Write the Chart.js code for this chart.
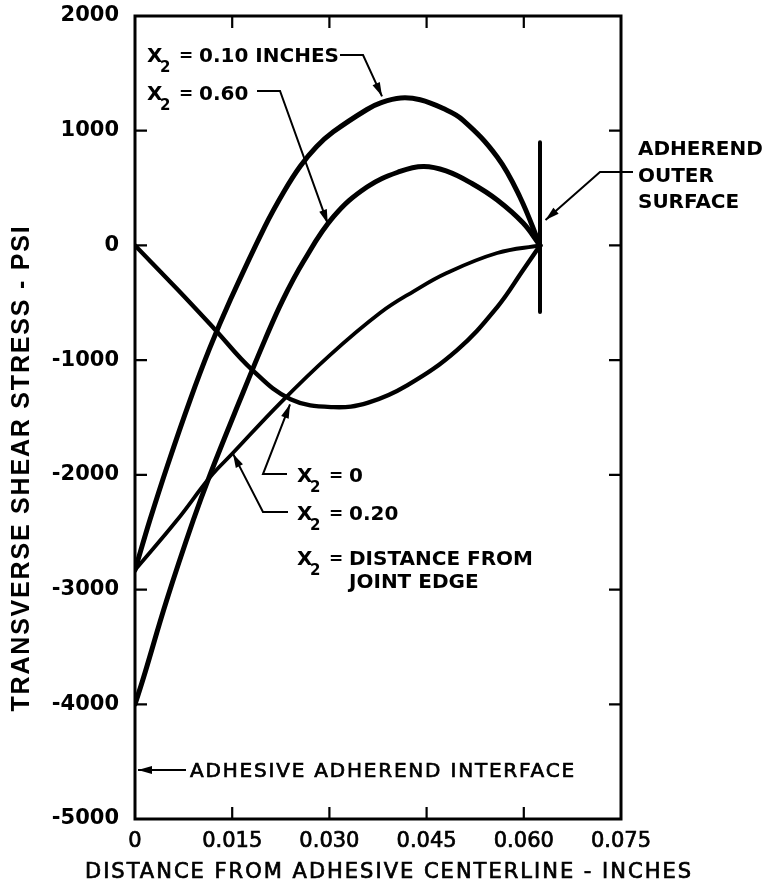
<!DOCTYPE html>
<html>
<head>
<meta charset="utf-8">
<script src="https://cdn.jsdelivr.net/npm/chart.js@4.4.1/dist/chart.umd.min.js"></script>
<style>
html,body{margin:0;padding:0;background:#fff;}
#wrap{width:768px;height:891px;position:relative;}
</style>
</head>
<body>
<div id="wrap"><canvas id="c" width="768" height="891"></canvas></div>
<script>
// Transverse shear stress across the bond thickness, for several stations X2 from the joint edge
const xTicks = [0, 0.015, 0.030, 0.045, 0.060, 0.075];
const yTicks = [-5000, -4000, -3000, -2000, -1000, 0, 1000, 2000];

// X2 = 0.10 inches
const x010 = [0, 0.0023, 0.0050, 0.0085, 0.0115, 0.0147, 0.0200, 0.0230, 0.0255, 0.0280, 0.0306, 0.0358, 0.0380, 0.0410, 0.0440, 0.0475, 0.0506, 0.0559, 0.0594, 0.0625];
const y010 = [-2830, -2394, -1920, -1348, -900, -476, 160, 470, 690, 860, 990, 1185, 1245, 1285, 1270, 1195, 1093, 771, 422, 0];

// X2 = 0.60
const x060 = [0, 0.0012, 0.0049, 0.0090, 0.0116, 0.0162, 0.0200, 0.0228, 0.0260, 0.0306, 0.0358, 0.0409, 0.0445, 0.0480, 0.0520, 0.0559, 0.0599, 0.0625];
const y060 = [-4000, -3789, -3091, -2394, -1995, -1348, -830, -476, -140, 248, 509, 645, 688, 650, 540, 396, 195, 0];

// X2 = 0.20
const x020 = [0, 0.0065, 0.0116, 0.0151, 0.0224, 0.0300, 0.0378, 0.0430, 0.0481, 0.0559, 0.0625];
const y020 = [-2830, -2394, -2019, -1810, -1374, -960, -589, -400, -240, -66, 0];

// X2 = 0 (joint edge)
const x000 = [0, 0.0065, 0.0123, 0.0180, 0.0240, 0.0306, 0.0360, 0.0420, 0.0497, 0.0559, 0.0599, 0.0625];
const y000 = [0, -380, -730, -1080, -1340, -1410, -1370, -1220, -912, -537, -214, 0];

// adherend outer surface marker
const surfX = [0.0625, 0.0625];
const surfY = [900, -580];

const pts = (xs, ys) => xs.map((x, i) => ({x: x, y: ys[i]}));

const INK = '#000';
const FONT = "'DejaVu Sans'";

function curve(xs, ys, w) {
  return {
    data: pts(xs, ys), showLine: true, borderColor: INK, borderWidth: w,
    pointRadius: 0, fill: false, tension: 0.4,
    borderCapStyle: 'round', borderJoinStyle: 'round'
  };
}

// annotation layout, in data units
const notes = {
  l010: {x: 0.00185, y: 1599, text: '0.10 INCHES',
         lead: [[0.03164, 1660], [0.03519, 1660], [0.03812, 1300]]},
  l060: {x: 0.00185, y: 1268, text: '0.60',
         lead: [[0.01883, 1346], [0.02238, 1346], [0.02975, 190]]},
  l000: {x: 0.0250, y: -2063, text: '0',
         lead: [[0.02346, -1993], [0.01975, -1993], [0.02392, -1385]]},
  l020: {x: 0.0250, y: -2394, text: '0.20',
         lead: [[0.02361, -2324], [0.01975, -2324], [0.01512, -1815]]},
  ldef: {x: 0.0250, y: -2786, text: 'DISTANCE FROM', text2: 'JOINT EDGE', y2: -2987},
  surf: {x: 0.07762, lines: ['ADHEREND', 'OUTER', 'SURFACE'], ys: [788, 553, 326],
         lead: [[0.07685, 640], [0.07176, 640], [0.06335, 222]]},
  iface: {x: 0.00849, y: -4634, text: 'ADHESIVE ADHEREND INTERFACE',
          lead: [[0.00787, -4573], [0.00046, -4573]]}
};

function arrowPath(ctx, P) {
  ctx.beginPath();
  ctx.moveTo(P[0][0], P[0][1]);
  for (let i = 1; i < P.length; i++) ctx.lineTo(P[i][0], P[i][1]);
  ctx.stroke();
  const a = P[P.length - 2], b = P[P.length - 1];
  const ang = Math.atan2(b[1] - a[1], b[0] - a[0]);
  const L = 14, W = 4;
  ctx.beginPath();
  ctx.moveTo(b[0], b[1]);
  ctx.lineTo(b[0] - L * Math.cos(ang) + W * Math.sin(ang), b[1] - L * Math.sin(ang) - W * Math.cos(ang));
  ctx.lineTo(b[0] - L * Math.cos(ang) - W * Math.sin(ang), b[1] - L * Math.sin(ang) + W * Math.cos(ang));
  ctx.closePath();
  ctx.fill();
}

// text with a slight outline, for the medium-weight lettering
function heavyText(ctx, t, x, y, w) {
  ctx.fillText(t, x, y);
  ctx.lineWidth = w;
  ctx.strokeText(t, x, y);
}

const framePlugin = {
  id: 'frameAndNotes',
  afterDatasetsDraw(chart) {
    const ctx = chart.ctx;
    const xs = chart.scales.x, ys = chart.scales.y;
    const a = chart.chartArea;
    const X = v => xs.getPixelForValue(v), Y = v => ys.getPixelForValue(v);
    ctx.save();
    ctx.strokeStyle = INK; ctx.fillStyle = INK;

    // frame
    ctx.lineWidth = 3;
    ctx.strokeRect(a.left, a.top, a.right - a.left, a.bottom - a.top);

    // inward tick marks on all four sides
    ctx.lineWidth = 2.2;
    const T = 12;
    ctx.beginPath();
    xTicks.slice(1, -1).forEach(v => {
      const p = X(v);
      ctx.moveTo(p, a.bottom); ctx.lineTo(p, a.bottom - T);
      ctx.moveTo(p, a.top); ctx.lineTo(p, a.top + T);
    });
    yTicks.slice(1, -1).forEach(v => {
      const p = Y(v);
      ctx.moveTo(a.left, p); ctx.lineTo(a.left + T, p);
      ctx.moveTo(a.right, p); ctx.lineTo(a.right - T, p);
    });
    ctx.stroke();

    // leader lines
    ctx.lineWidth = 2;
    ['l010', 'l060', 'l000', 'l020', 'surf', 'iface'].forEach(k => {
      arrowPath(ctx, notes[k].lead.map(q => [X(q[0]), Y(q[1])]));
    });

    // X2 labels
    ctx.textBaseline = 'alphabetic';
    ctx.textAlign = 'left';
    const x2label = (n, text, yv) => {
      const x0 = X(n.x), y0 = Y(yv);
      ctx.font = 'bold 20px ' + FONT;
      ctx.fillText('X', x0, y0);
      ctx.font = 'bold 15px ' + FONT;
      ctx.fillText('2', x0 + 13, y0 + 10);
      ctx.font = 'bold 17px ' + FONT;
      ctx.fillText('=', x0 + 32, y0 - 1);
      ctx.font = 'bold 20px ' + FONT;
      ctx.fillText(text, x0 + 52, y0);
    };
    x2label(notes.l010, notes.l010.text, notes.l010.y);
    x2label(notes.l060, notes.l060.text, notes.l060.y);
    x2label(notes.l000, notes.l000.text, notes.l000.y);
    x2label(notes.l020, notes.l020.text, notes.l020.y);
    x2label(notes.ldef, notes.ldef.text, notes.ldef.y);
    ctx.font = 'bold 20px ' + FONT;
    ctx.fillText(notes.ldef.text2, X(notes.ldef.x) + 52, Y(notes.ldef.y2));

    // adherend outer surface
    notes.surf.lines.forEach((t, i) => ctx.fillText(t, X(notes.surf.x), Y(notes.surf.ys[i])));

    // interface note
    ctx.font = '20px ' + FONT;
    ctx.letterSpacing = '1.8px';
    heavyText(ctx, notes.iface.text, X(notes.iface.x), Y(notes.iface.y), 0.7);

    // axis titles
    ctx.textAlign = 'center';
    ctx.textBaseline = 'middle';
    ctx.font = '21px ' + FONT;
    ctx.letterSpacing = '2px';
    heavyText(ctx, 'DISTANCE FROM ADHESIVE CENTERLINE - INCHES', 389, 873, 0.7);

    ctx.save();
    ctx.translate(22, 468);
    ctx.rotate(-Math.PI / 2);
    ctx.font = "bold 25px 'Liberation Sans'";
    ctx.letterSpacing = '1.8px';
    ctx.fillText('TRANSVERSE SHEAR STRESS - PSI', 0, 0);
    ctx.restore();

    ctx.letterSpacing = '0px';
    ctx.restore();
  }
};

new Chart(document.getElementById('c'), {
  type: 'scatter',
  data: {
    datasets: [
      curve(x010, y010, 5),
      curve(x060, y060, 5),
      curve(x020, y020, 3.8),
      curve(x000, y000, 4.4),
      Object.assign(curve(surfX, surfY, 4), {tension: 0, borderCapStyle: 'butt'})
    ]
  },
  options: {
    responsive: false,
    animation: false,
    events: [],
    layout: {padding: {left: 0, top: 16, right: 147, bottom: 0}},
    plugins: {legend: {display: false}, tooltip: {enabled: false}},
    scales: {
      x: {
        type: 'linear', min: 0, max: 0.075,
        afterBuildTicks: s => { s.ticks = xTicks.map(v => ({value: v})); },
        afterFit: s => { s.height = 72; s.paddingLeft = 0; s.paddingRight = 0; },
        grid: {display: false, drawTicks: false},
        border: {display: false},
        ticks: {
          autoSkip: false, maxRotation: 0, padding: 10, color: INK,
          textStrokeColor: INK, textStrokeWidth: 0.7,
          font: {family: 'DejaVu Sans', size: 21},
          callback: v => v === 0 ? '0' : v.toFixed(3)
        }
      },
      y: {
        type: 'linear', min: -5000, max: 2000,
        afterBuildTicks: s => { s.ticks = yTicks.map(v => ({value: v})); },
        afterFit: s => { s.width = 135; s.paddingTop = 0; s.paddingBottom = 0; },
        grid: {display: false, drawTicks: false},
        border: {display: false},
        ticks: {
          autoSkip: false, padding: 16, color: INK,
          font: {family: 'DejaVu Sans', size: 21, weight: 'bold'},
          callback: v => String(v)
        }
      }
    }
  },
  plugins: [framePlugin]
});
</script>
</body>
</html>
